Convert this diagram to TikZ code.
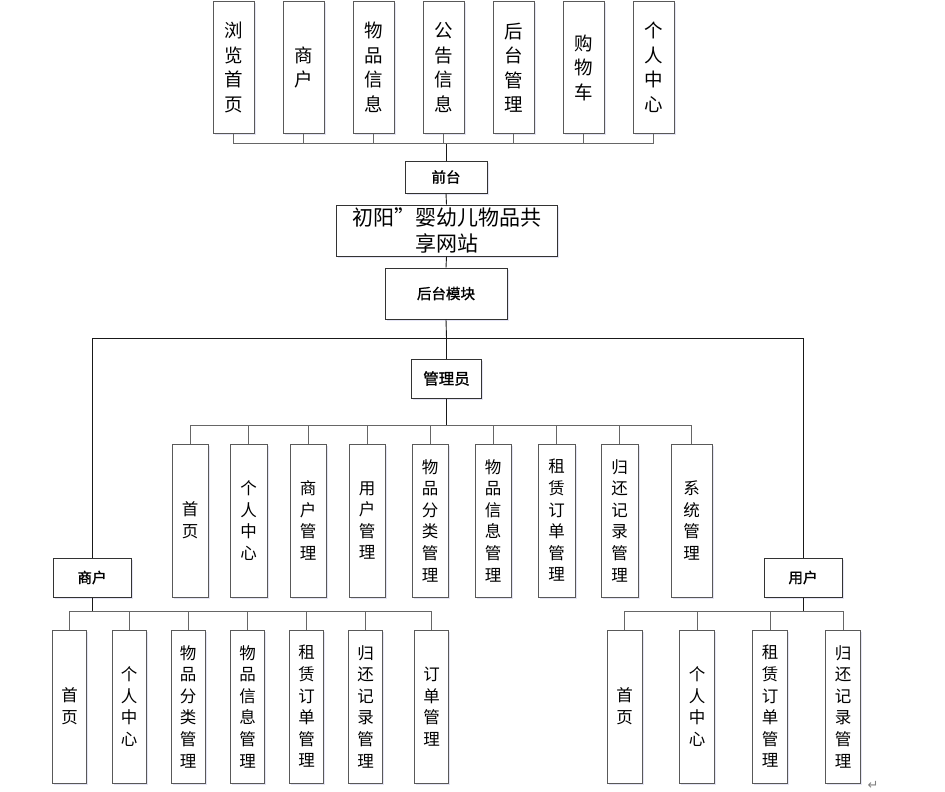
\documentclass[tikz,border=0pt]{standalone}
\usepackage{fontspec}
\newfontfamily\cjk{Noto Sans CJK SC}
\newfontfamily\cjkhead{Noto Sans CJK SC}[FakeBold=1.3]
\newfontfamily\symfont{DejaVu Sans}
\usepackage{tikz}
\usetikzlibrary{shapes,shadows}

\begin{document}
\begin{tikzpicture}[x = 1pt, y = -1pt]

    % Define block styles
    \tikzstyle{block} = [rectangle, draw = black!65, line width = 1pt,
        fill = white, inner sep = 0pt, align = center,
        drop shadow = {shadow xshift = 1.5pt, shadow yshift = -1.5pt,
            fill = blue!40!gray, opacity = 0.15}]
    \tikzstyle{head} = [block, draw = black!80, font = \cjkhead\fontsize{14.5}{17}\selectfont]
    \tikzstyle{topcol} = [block, minimum width = 41pt, minimum height = 131pt,
        font = \cjk\fontsize{18.5}{24.5}\selectfont]
    \tikzstyle{col} = [block, minimum height = 153pt,
        font = \cjk\fontsize{16.5}{21.6}\selectfont]
    \tikzstyle{line} = [draw, black!60, line width = 0.8pt]
    \tikzstyle{trunk} = [draw, black!90, line width = 0.9pt]

    \useasboundingbox (0,0) rectangle (945,792);

    % Front end
    \node [topcol] (browse) at (233.5,67.5) {浏\\览\\首\\页};
    \node [topcol] (shop) at (303.5,67.5) {商\\户};
    \node [topcol] (goods) at (373.5,67.5) {物\\品\\信\\息};
    \node [topcol] (notice) at (443.5,67.5) {公\\告\\信\\息};
    \node [topcol] (manage) at (513.5,67.5) {后\\台\\管\\理};
    \node [topcol] (cart) at (583.5,67.5) {购\\物\\车};
    \node [topcol] (mine) at (653.5,67.5) {个\\人\\中\\心};
    \node [head, minimum width = 82pt, minimum height = 32pt] (front)
        at (446,177) {前台};
    \node [block, draw = black!80, minimum width = 221pt, minimum height = 51pt,
        font = \cjk\fontsize{21}{26.5}\selectfont] (site)
        at (446.5,230.5) {初阳”婴幼儿物品共\\享网站};
    \node [head, minimum width = 122pt, minimum height = 51pt] (back)
        at (446,293.5) {后台模块};
    \coordinate (fbus) at (446,143);
    \coordinate (split) at (446.5,338);

    % Administrator
    \node [head, minimum width = 70pt, minimum height = 39pt,
        font = \cjkhead\fontsize{15.5}{18}\selectfont] (admin)
        at (446.5,378.5) {管理员};
    \coordinate (abus) at (446.5,425);
    \node [col, minimum width = 36pt] (a1) at (190,520.5) {首\\页};
    \node [col, minimum width = 37pt] (a2) at (248.5,520.5) {个\\人\\中\\心};
    \node [col, minimum width = 36pt] (a3) at (308,520.5) {商\\户\\管\\理};
    \node [col, minimum width = 36pt] (a4) at (367,520.5) {用\\户\\管\\理};
    \node [col, minimum width = 36pt] (a5) at (430,520.5) {物\\品\\分\\类\\管\\理};
    \node [col, minimum width = 36pt] (a6) at (493,520.5) {物\\品\\信\\息\\管\\理};
    \node [col, minimum width = 37pt] (a7) at (556.5,520.5) {租\\赁\\订\\单\\管\\理};
    \node [col, minimum width = 37pt] (a8) at (619.5,520.5) {归\\还\\记\\录\\管\\理};
    \node [col, minimum width = 41pt] (a9) at (691.5,520.5) {系\\统\\管\\理};

    % Merchant
    \node [head, minimum width = 78pt, minimum height = 39pt] (merchant)
        at (92,577.5) {商户};
    \coordinate (mbus) at (92,611);
    \node [col, minimum width = 34pt] (m1) at (69.5,706.5) {首\\页};
    \node [col, minimum width = 34pt] (m2) at (129,706.5) {个\\人\\中\\心};
    \node [col, minimum width = 34pt] (m3) at (188,706.5) {物\\品\\分\\类\\管\\理};
    \node [col, minimum width = 34pt] (m4) at (247.5,706.5) {物\\品\\信\\息\\管\\理};
    \node [col, minimum width = 34pt] (m5) at (306.5,706.5) {租\\赁\\订\\单\\管\\理};
    \node [col, minimum width = 34pt] (m6) at (365.5,706.5) {归\\还\\记\\录\\管\\理};
    \node [col, minimum width = 34pt] (m7) at (431.5,706.5) {订\\单\\管\\理};

    % User
    \node [head, minimum width = 78pt, minimum height = 39pt] (user)
        at (803,577.5) {用户};
    \coordinate (ubus) at (803,611);
    \node [col, minimum width = 35pt] (u1) at (624.5,706.5) {首\\页};
    \node [col, minimum width = 35pt] (u2) at (697,706.5) {个\\人\\中\\心};
    \node [col, minimum width = 35pt] (u3) at (770,706.5) {租\\赁\\订\\单\\管\\理};
    \node [col, minimum width = 35pt] (u4) at (843,706.5) {归\\还\\记\\录\\管\\理};

    \node [text = black!50, font = \symfont\fontsize{13}{13}\selectfont] (mark)
        at (873,785) {↵};

    % Draw edges
    \path [trunk] (front.north) -- (fbus);
    \path [line] (fbus) -| (browse.south);
    \path [line] (fbus) -| (shop.south);
    \path [line] (fbus) -| (goods.south);
    \path [line] (fbus) -| (notice.south);
    \path [line] (fbus) -| (manage.south);
    \path [line] (fbus) -| (cart.south);
    \path [line] (fbus) -| (mine.south);
    \path [trunk] (front.south) -- (site.north);
    \path [trunk] (site.south) -- (back.north);
    \path [trunk] (back.south) -- (split);
    \path [trunk] (split) -- (admin.north);
    \path [trunk] (split) -| (merchant.north);
    \path [trunk] (split) -| (user.north);

    \path [trunk] (admin.south) -- (abus);
    \path [line] (abus) -| (a1.north);
    \path [line] (abus) -| (a2.north);
    \path [line] (abus) -| (a3.north);
    \path [line] (abus) -| (a4.north);
    \path [line] (abus) -| (a5.north);
    \path [line] (abus) -| (a6.north);
    \path [line] (abus) -| (a7.north);
    \path [line] (abus) -| (a8.north);
    \path [line] (abus) -| (a9.north);

    \path [trunk] (merchant.south) -- (mbus);
    \path [line] (mbus) -| (m1.north);
    \path [line] (mbus) -| (m2.north);
    \path [line] (mbus) -| (m3.north);
    \path [line] (mbus) -| (m4.north);
    \path [line] (mbus) -| (m5.north);
    \path [line] (mbus) -| (m6.north);
    \path [line] (mbus) -| (m7.north);

    \path [trunk] (user.south) -- (ubus);
    \path [line] (ubus) -| (u1.north);
    \path [line] (ubus) -| (u2.north);
    \path [line] (ubus) -| (u3.north);
    \path [line] (ubus) -| (u4.north);

\end{tikzpicture}
\end{document}
